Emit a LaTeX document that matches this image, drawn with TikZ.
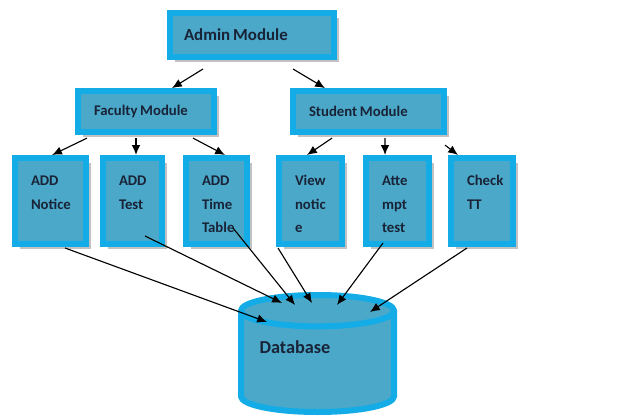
\documentclass[tikz,border=0pt]{standalone}
\usepackage{fontspec}
\setmainfont{Carlito}
\usetikzlibrary{shapes.geometric}
\usetikzlibrary{arrows.meta}
\usetikzlibrary{calc,shadows}

\definecolor{modborder}{RGB}{20,172,230}
\definecolor{modfill}{RGB}{75,168,200}
\definecolor{modtext}{RGB}{25,35,55}

\tikzset{
  module/.style={draw=modborder, fill=modfill, line width=0.15cm, text=modtext,
    align=left, inner ysep=0cm,
    execute at begin node={\spaceskip=0.18em\relax},
    drop shadow={shadow xshift=0.12cm, shadow yshift=-0.12cm, fill=black!40, opacity=0.6}},
  headbox/.style={module, text width=#1, inner xsep=0.4cm, minimum height=1.025cm,
    font=\fontsize{10.5}{13}\selectfont\bfseries},
  taskbox/.style={module, text width=#1, inner xsep=0.4cm, inner ysep=0.125cm,
    text height=0.575cm, text depth=1.325cm,
    font=\fontsize{10.5}{16.5}\selectfont\bfseries},
}

\begin{document}
\begin{tikzpicture}[>={Latex[length=7pt,width=6pt]},thick]

      % white space round the picture
      \useasboundingbox (0, 0) rectangle (15.6, -10.4);

      % top
      \node [module, name=admin, text width=3.4cm, inner xsep=0.35cm, minimum height=1.1cm,
        font=\fontsize{12}{14}\selectfont\bfseries] at (6.3, -0.875) {Admin Module};

      % modules
      \node [headbox=2.6cm, name=faculty] at (3.65, -2.79) {Faculty Module};
      \node [headbox=2.975cm, name=student] at (9.2125, -2.79) {Student Module};

      % tasks
      \node [taskbox=0.975cm, name=notice] at (1.2625, -5.025) {ADD\\Notice};
      \node [taskbox=0.675cm, name=test] at (3.3125, -5.025) {ADD\\Test};
      \node [taskbox=0.725cm, name=timetable] at (5.4125, -5.025) {ADD\\Time\\Table};
      \node [taskbox=0.775cm, name=view] at (7.7625, -5.025) {View\\notic\\e};
      \node [taskbox=0.775cm, name=attempt] at (9.9375, -5.025) {Atte\\mpt\\test};
      \node [taskbox=0.75cm, name=check] at (12.05, -5.025) {Check\\TT};

      % database
      \node [cylinder, shape border rotate=90, aspect=0.25, draw=modborder, fill=modfill,
        line width=0.15cm, minimum width=3.825cm, minimum height=2.925cm, text=modtext,
        text width=2.9cm, text depth=0.9cm, align=left,
        font=\fontsize{13}{15}\selectfont\bfseries,
        anchor=shape center, name=db] at (7.9375, -8.8375) {Database};

      % connections
      \draw [->] ($(admin.south)+(-1.225,-0.225)$) -- ($(faculty.north)+(0.65,0)$);
      \draw [->] ($(admin.south)+(1.025,-0.225)$) -- ($(student.north)+(-1.0875,0)$);

      \draw [->] ($(faculty.south)+(-1.475,-0.075)$) -- ($(notice.north)+(0.04,0)$);
      \draw [->] ($(faculty.south)+(-0.25,-0.075)$) -- ($(test.north)+(0.0875,0)$);
      \draw [->] ($(faculty.south)+(1.175,-0.075)$) -- ($(timetable.north)+(0.2125,0)$);
      \draw [->] ($(student.south)+(-0.9125,-0.075)$) -- ($(view.north)+(-0.0875,0)$);
      \draw [->] ($(student.south)+(0.4125,-0.075)$) -- ($(attempt.north)+(-0.3125,0)$);
      \draw [->] ($(student.south)+(1.9125,-0.25)$) -- ($(check.north)+(-0.6,0)$);

      \draw [->] ($(notice.south)+(0.3625,-0.025)$) -- ($(db.shape center)+(-1.2625,0.7875)$);
      \draw [->] ($(test.south)+(0.3125,0.275)$) -- ($(db.shape center)+(-0.8875,1.2625)$);
      \draw [->] ($(timetable.south)+(0.4125,0.475)$) -- ($(db.shape center)+(-0.5625,1.2125)$);
      \draw [->] ($(view.south)+(-0.8125,-0.025)$) -- ($(db.shape center)+(-0.1375,1.2625)$);
      \draw [->] ($(attempt.south)+(-0.3625,0.1)$) -- ($(db.shape center)+(0.4875,1.2125)$);
      \draw [->] ($(check.south)+(-0.375,-0.025)$) -- ($(db.shape center)+(1.3125,1.0375)$);

    \end{tikzpicture}
\end{document}
